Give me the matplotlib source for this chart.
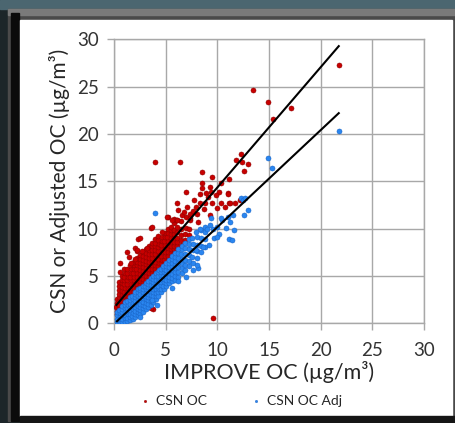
import matplotlib
matplotlib.use("Agg")
import matplotlib.pyplot as plt
from matplotlib.patches import Rectangle

# ---------------- data ----------------
# CSN OC (red) : dense core band + scattered points
red_x = [
    0.25, 0.27, 0.24, 0.26, 0.28,
    0.50, 0.52, 0.49, 0.51, 0.53, 0.50, 0.48, 0.52, 0.51,
    0.76, 0.74, 0.77, 0.75, 0.73, 0.76, 0.78, 0.74, 0.75, 0.77, 0.62,
    1.01, 0.99, 1.02, 1.00, 0.98, 1.03, 1.01, 0.99, 1.00, 1.02, 0.97,
    1.30, 1.28, 1.31, 1.29, 1.32, 1.30, 1.27, 1.31, 1.30, 1.29,
    1.60, 1.58, 1.61, 1.59, 1.62, 1.60, 1.57, 1.61, 1.60, 1.59,
    1.90, 1.88, 1.91, 1.89, 1.92, 1.90, 1.87, 1.91, 1.90, 1.89,
    2.20, 2.18, 2.21, 2.19, 2.22, 2.20, 2.17, 2.21, 2.20, 2.19,
    2.50, 2.48, 2.51, 2.49, 2.52, 2.50, 2.47, 2.51, 2.50, 2.49,
    2.80, 2.78, 2.81, 2.79, 2.82, 2.80, 2.77, 2.81, 2.80, 2.79,
    3.10, 3.08, 3.11, 3.09, 3.12, 3.10, 3.07, 3.11, 3.10, 3.09,
    3.40, 3.38, 3.41, 3.39, 3.42, 3.40, 3.37, 3.41, 3.40, 3.39,
    3.70, 3.68, 3.71, 3.69, 3.72, 3.70, 3.67, 3.71, 3.70, 3.69,
    4.00, 3.98, 4.01, 3.99, 4.02, 4.00, 3.97, 4.01, 4.00, 3.99,
    4.30, 4.28, 4.31, 4.29, 4.32, 4.30, 4.27, 4.31, 4.30, 4.29,
    4.60, 4.58, 4.61, 4.59, 4.62, 4.60, 4.57, 4.61, 4.60,
    4.90, 4.88, 4.91, 4.89, 4.92, 4.90, 4.87, 4.91, 4.90,
    5.20, 5.18, 5.21, 5.19, 5.22, 5.20, 5.17, 5.21, 5.20,
    5.50, 5.48, 5.51, 5.49, 5.52, 5.50, 5.47, 5.51, 5.50,
    5.80, 5.78, 5.81, 5.79, 5.82, 5.80, 5.77, 5.81, 5.80,
    6.10, 6.08, 6.12, 6.09, 6.13, 6.10, 6.07,
    6.50, 6.48, 6.52, 6.49, 6.47,
    6.90, 6.88, 6.92, 6.95,
    7.30, 7.28, 7.33,
    # scattered
    21.75, 13.50, 14.95, 15.35, 17.10, 12.25, 11.80, 12.35, 13.00, 12.60,
    11.10, 10.40, 9.25, 9.40, 10.15, 11.00, 8.50, 7.00, 8.35, 9.10,
    9.90, 9.50, 10.40, 8.85, 8.30, 7.70, 11.10, 10.70, 3.60, 5.25,
    6.20, 7.05, 6.55, 7.35, 8.00, 8.15, 9.30, 3.95, 6.40, 8.50,
    9.55, 3.50, 3.75, 3.62, 2.32, 2.00, 2.23, 2.70, 1.26, 1.42,
    2.00, 0.61, 1.67, 3.20, 4.65, 5.13, 6.10, 9.45, 8.50, 8.90,
    11.07, 11.20, 11.70, 12.20, 6.07, 7.36, 3.65, 2.52, 2.20, 7.60,
    8.70, 6.80, 7.90, 10.00, 5.60,
]
red_y = [
    0.90, 1.30, 1.70, 2.10, 2.50,
    1.10, 1.50, 1.90, 2.30, 2.70, 3.10, 3.50, 3.90, 4.30,
    1.40, 1.80, 2.20, 2.60, 3.00, 3.40, 3.80, 4.20, 4.60, 5.00, 5.40,
    1.70, 2.10, 2.50, 2.90, 3.30, 3.70, 4.10, 4.50, 4.90, 5.30, 5.70,
    2.10, 2.50, 2.90, 3.30, 3.70, 4.10, 4.50, 4.90, 5.30, 5.70,
    2.50, 2.90, 3.30, 3.70, 4.10, 4.50, 4.90, 5.30, 5.70, 6.10,
    2.90, 3.30, 3.70, 4.10, 4.50, 4.90, 5.30, 5.70, 6.10, 6.50,
    3.30, 3.70, 4.10, 4.50, 4.90, 5.30, 5.70, 6.10, 6.50, 6.90,
    3.60, 4.00, 4.40, 4.80, 5.20, 5.60, 6.00, 6.40, 6.80, 7.20,
    3.90, 4.30, 4.70, 5.10, 5.50, 5.90, 6.30, 6.70, 7.10, 7.50,
    4.20, 4.60, 5.00, 5.40, 5.80, 6.20, 6.60, 7.00, 7.40, 7.80,
    4.50, 4.90, 5.30, 5.70, 6.10, 6.50, 6.90, 7.30, 7.70, 8.10,
    4.90, 5.30, 5.70, 6.10, 6.50, 6.90, 7.30, 7.70, 8.10, 8.50,
    5.30, 5.70, 6.10, 6.50, 6.90, 7.30, 7.70, 8.10, 8.50, 8.90,
    5.60, 6.00, 6.40, 6.80, 7.20, 7.60, 8.00, 8.40, 8.80, 9.20,
    5.90, 6.30, 6.70, 7.10, 7.50, 7.90, 8.30, 8.70, 9.10,
    6.30, 6.70, 7.10, 7.50, 7.90, 8.30, 8.70, 9.10, 9.50,
    6.70, 7.10, 7.50, 7.90, 8.30, 8.70, 9.10, 9.50, 9.90,
    7.00, 7.40, 7.80, 8.20, 8.60, 9.00, 9.40, 9.80, 10.20,
    7.40, 7.80, 8.20, 8.60, 9.00, 9.40, 9.80, 10.60, 11.00,
    7.80, 8.20, 8.60, 9.00, 9.60, 10.20, 10.90,
    8.30, 8.80, 9.30, 10.00, 10.80,
    8.80, 9.40, 10.10, 11.20,
    9.30, 10.00, 11.50,
    # scattered
    27.30, 24.65, 23.35, 21.55, 22.80, 17.90, 17.25, 17.05, 16.80, 16.05,
    15.20, 14.80, 14.40, 13.90, 13.85, 13.80, 14.25, 13.90, 13.65, 13.35,
    13.50, 12.70, 12.65, 12.65, 12.70, 13.00, 12.70, 12.25, 10.10, 11.25,
    11.95, 12.25, 11.40, 10.90, 11.50, 10.70, 11.40, 17.00, 17.00, 16.00,
    0.50, 1.70, 1.45, 1.55, 8.90, 7.90, 7.65, 7.60, 7.55, 7.00,
    6.77, 6.30, 6.40, 7.90, 9.66, 11.25, 10.90, 15.50, 14.80, 13.80,
    13.70, 12.67, 12.67, 13.00, 12.67, 11.07, 10.20, 8.96, 7.70, 11.90,
    12.10, 11.70, 12.30, 12.20, 10.90,
]

# CSN OC Adj (blue)
blue_x = [
    0.30, 0.29, 0.31, 0.30,
    0.55, 0.54, 0.56, 0.55, 0.53,
    0.80, 0.79, 0.81, 0.80, 0.78, 0.81,
    1.05, 1.04, 1.06, 1.05, 1.03, 1.06, 1.05,
    1.30, 1.29, 1.31, 1.30, 1.28, 1.31, 1.30,
    1.55, 1.54, 1.56, 1.55, 1.53, 1.56, 1.55, 1.54,
    1.80, 1.79, 1.81, 1.80, 1.78, 1.81, 1.80, 1.79,
    2.05, 2.04, 2.06, 2.05, 2.03, 2.06, 2.05, 2.04, 2.06,
    2.30, 2.29, 2.31, 2.30, 2.28, 2.31, 2.30, 2.29, 2.31,
    2.55, 2.54, 2.56, 2.55, 2.53, 2.56, 2.55, 2.54, 2.56,
    2.80, 2.79, 2.81, 2.80, 2.78, 2.81, 2.80, 2.79, 2.81,
    3.05, 3.04, 3.06, 3.05, 3.03, 3.06, 3.05, 3.04, 3.06,
    3.30, 3.29, 3.31, 3.30, 3.28, 3.31, 3.30, 3.29, 3.31,
    3.55, 3.54, 3.56, 3.55, 3.53, 3.56, 3.55, 3.54, 3.56,
    3.80, 3.79, 3.81, 3.80, 3.78, 3.81, 3.80, 3.79, 3.81,
    4.05, 4.04, 4.06, 4.05, 4.03, 4.06, 4.05, 4.04, 4.06,
    4.30, 4.29, 4.31, 4.30, 4.28, 4.31, 4.30, 4.29, 4.31,
    4.55, 4.54, 4.56, 4.55, 4.53, 4.56, 4.55, 4.54,
    4.80, 4.79, 4.81, 4.80, 4.78, 4.81, 4.80, 4.79,
    5.05, 5.04, 5.06, 5.05, 5.03, 5.06, 5.05, 5.04,
    5.30, 5.29, 5.31, 5.30, 5.28, 5.31, 5.30, 5.29,
    5.60, 5.59, 5.61, 5.60, 5.58, 5.61, 5.60, 5.59,
    5.90, 5.89, 5.91, 5.90, 5.88, 5.91, 5.90, 5.89,
    6.20, 6.19, 6.21, 6.20, 6.18, 6.21, 6.20,
    6.55, 6.54, 6.56, 6.55, 6.53, 6.56, 6.55,
    6.90, 6.89, 6.91, 6.90, 6.88, 6.91,
    7.25, 7.24, 7.26, 7.25, 7.23, 7.26,
    7.60, 7.59, 7.61, 7.60, 7.58,
    8.00, 7.99, 8.01, 8.00, 7.98,
    8.40, 8.39, 8.41, 8.40,
    8.80, 8.79, 8.81, 8.80,
    # scattered
    9.30, 9.95, 10.50, 11.05, 11.55, 12.60, 13.00, 12.30, 12.50, 11.10,
    11.60, 8.15, 8.00, 5.60, 3.65, 3.97, 14.95, 15.25, 21.75, 10.20,
    9.70, 9.20, 10.80, 7.00, 7.60, 4.20, 2.50, 9.00, 11.20, 10.40,
    9.60, 11.40, 9.94, 8.64, 8.30, 9.35, 12.70, 7.90, 6.20,
]
blue_y = [
    0.10, 0.45, 0.80, 1.15,
    0.05, 0.40, 0.75, 1.10, 1.40,
    0.10, 0.45, 0.80, 1.15, 1.50, 1.80,
    0.15, 0.50, 0.85, 1.20, 1.55, 1.90, 2.20,
    0.20, 0.55, 0.90, 1.25, 1.60, 1.95, 2.30,
    0.30, 0.65, 1.00, 1.35, 1.70, 2.05, 2.40, 2.70,
    0.40, 0.75, 1.10, 1.45, 1.80, 2.15, 2.50, 2.85,
    0.60, 0.95, 1.30, 1.65, 2.00, 2.35, 2.70, 3.05, 3.30,
    0.80, 1.15, 1.50, 1.85, 2.20, 2.55, 2.90, 3.25, 3.55,
    1.00, 1.35, 1.70, 2.05, 2.40, 2.75, 3.10, 3.45, 3.75,
    1.20, 1.55, 1.90, 2.25, 2.60, 2.95, 3.30, 3.65, 3.95,
    1.45, 1.80, 2.15, 2.50, 2.85, 3.20, 3.55, 3.90, 4.20,
    1.70, 2.05, 2.40, 2.75, 3.10, 3.45, 3.80, 4.15, 4.45,
    1.95, 2.30, 2.65, 3.00, 3.35, 3.70, 4.05, 4.40, 4.75,
    2.20, 2.55, 2.90, 3.25, 3.60, 3.95, 4.30, 4.65, 5.00,
    2.50, 2.85, 3.20, 3.55, 3.90, 4.25, 4.60, 4.95, 5.30,
    2.90, 3.25, 3.60, 3.95, 4.30, 4.65, 5.00, 5.35, 5.60,
    3.30, 3.65, 4.00, 4.35, 4.70, 5.05, 5.40, 5.75,
    3.60, 3.95, 4.30, 4.65, 5.00, 5.35, 5.70, 6.05,
    3.90, 4.25, 4.60, 4.95, 5.30, 5.65, 6.00, 6.35,
    4.20, 4.55, 4.90, 5.25, 5.60, 5.95, 6.30, 6.65,
    4.40, 4.80, 5.20, 5.60, 6.00, 6.40, 6.80, 7.10,
    4.60, 5.00, 5.40, 5.80, 6.20, 6.60, 7.00, 7.40,
    4.90, 5.40, 5.90, 6.40, 6.90, 7.40, 7.80,
    5.30, 5.80, 6.30, 6.80, 7.30, 7.80, 8.20,
    5.60, 6.10, 6.70, 7.30, 7.90, 8.50,
    6.00, 6.60, 7.20, 7.80, 8.40, 8.90,
    6.40, 7.00, 7.70, 8.40, 9.00,
    6.90, 7.60, 8.30, 9.10, 9.60,
    7.50, 8.20, 9.00, 9.80,
    8.00, 8.90, 9.60, 10.20,
    # scattered
    10.40, 10.20, 10.90, 11.25, 11.40, 11.40, 12.00, 13.20, 13.00, 8.90,
    9.80, 5.80, 6.10, 3.70, 2.45, 11.65, 17.50, 16.35, 20.30, 9.40,
    9.00, 8.30, 10.10, 4.90, 5.60, 1.90, 0.60, 9.90, 10.70, 11.07,
    10.00, 8.80, 9.10, 8.07, 10.00, 11.07, 13.20, 7.70, 4.40,
]

# linear trend lines (slope, intercept)
red_fit = (1.273, 1.61)
blue_fit = (1.026, -0.11)

x_ticks = [0, 5, 10, 15, 20, 25, 30]
y_ticks = [0, 5, 10, 15, 20, 25, 30]
x_label = "IMPROVE OC (µg/m³)"
y_label = "CSN or Adjusted OC (µg/m³)"
series_names = ["CSN OC", "CSN OC Adj"]

# ---------------- figure ----------------
W, H = 456, 423
fig = plt.figure(figsize=(W / 100, H / 100), dpi=100)
plt.rcParams['font.family'] = ['Lato', 'DejaVu Sans']

# background frame in pixel coordinates
bg = fig.add_axes([0, 0, 1, 1], zorder=-10)
bg.set_xlim(0, W)
bg.set_ylim(H, 0)
bg.axis("off")
bg.add_patch(Rectangle((0, 0), W, H, color="#1c2629"))
bg.add_patch(Rectangle((0, 0), W, 9, color="#4b6670"))
bg.add_patch(Rectangle((8, 9), W - 8, H - 11, color="#4a4a4a"))
bg.add_patch(Rectangle((8, 9), W - 8, 6, color="#7a7a7a"))
bg.add_patch(Rectangle((11, 13), 8, H - 15, color="#0b0b0b"))
bg.add_patch(Rectangle((20, 20), 432, 396, color="white"))
bg.add_patch(Rectangle((20, 416), 436, 7, color="#151515"))

# plot axes
left, right, top, bottom = 114, 424, 39.5, 323
ax = fig.add_axes([left / W, 1 - bottom / H, (right - left) / W, (bottom - top) / H])
ax.set_facecolor("white")

ms = 13
rs = ax.scatter(red_x, red_y, s=ms, marker="o", c="#c80000", edgecolors="#900000",
                linewidths=0.4, label=series_names[0], zorder=3)
bs = ax.scatter(blue_x, blue_y, s=ms, marker="o", c="#2a86f0", edgecolors="#1a66c8",
                linewidths=0.4, label=series_names[1], zorder=4)

rx = [min(red_x), max(red_x)]
ax.plot(rx, [red_fit[0] * v + red_fit[1] for v in rx], color="black", lw=1.5, zorder=5)
bx = [min(blue_x), max(blue_x)]
ax.plot(bx, [blue_fit[0] * v + blue_fit[1] for v in bx], color="black", lw=1.5, zorder=5)

ax.set_xlim(0, 30)
ax.set_ylim(0, 30)
ax.set_xticks(x_ticks)
ax.set_yticks(y_ticks)
ax.grid(True, color="#a8a8a8", lw=1.0, zorder=0)
ax.set_axisbelow(True)
for sp in ax.spines.values():
    sp.set_color("#a8a8a8")
    sp.set_linewidth(1.0)
ax.tick_params(axis="both", direction="out", length=5, width=1.0, color="#a8a8a8",
               labelsize=13.5, labelcolor="#333333")
ax.tick_params(axis="x", pad=9)
ax.tick_params(axis="y", pad=6)

ax.set_xlabel(x_label, fontsize=15.5, color="#262626", labelpad=1)
ax.set_ylabel(y_label, fontsize=15, color="#262626", labelpad=5)

leg = fig.legend(handles=[rs, bs], labels=series_names, loc="center",
                 bbox_to_anchor=(240 / W, 1 - 401 / H), ncol=2, frameon=False,
                 fontsize=10, markerscale=0.45, handletextpad=0.3, columnspacing=3.0,
                 handlelength=1.0, labelcolor="#262626")

fig.savefig("out.png", dpi=100)
